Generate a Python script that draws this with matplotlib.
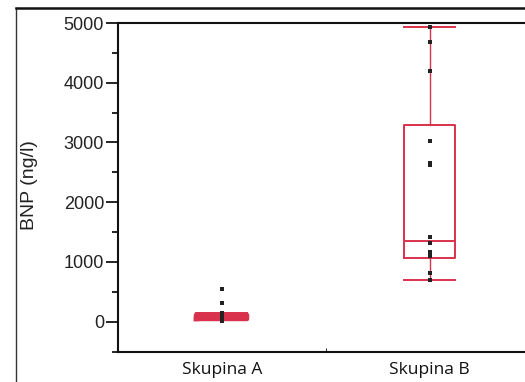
import matplotlib
matplotlib.use("Agg")
import matplotlib.pyplot as plt
from matplotlib.lines import Line2D
from matplotlib.ticker import MultipleLocator

categories = ["Skupina A", "Skupina B"]
whislo = [20, 700]
q1 = [50, 1065]
med = [85, 1345]
q3 = [110, 3300]
whishi = [140, 4930]
points_a = [548, 308, 140, 85, 17]
points_b = [4680, 4190, 3030, 2650, 2620, 1410, 1320, 1160, 1105, 815, 700, 4930]
yticks = [0, 1000, 2000, 3000, 4000, 5000]

red = "#d8324c"

fig = plt.figure(figsize=(5.25, 3.82), dpi=100)
ax = fig.add_axes([118/525, 1-351.5/382, (533.5-118)/525, (351.5-23)/382])

stats = []
for i, c in enumerate(categories):
    stats.append(dict(label=c, whislo=whislo[i], q1=q1[i], med=med[i],
                      q3=q3[i], whishi=whishi[i], fliers=[]))

bp = ax.bxp(stats, positions=[1, 2], widths=0.245, showfliers=False,
            boxprops=dict(color=red, linewidth=1.4),
            medianprops=dict(color=red, linewidth=1.4),
            whiskerprops=dict(color=red, linewidth=1.0),
            capprops=dict(color=red, linewidth=1.4),
            capwidths=0.245)
# thick first box
bp["boxes"][0].set_linewidth(3.2)
bp["boxes"][0].set_solid_joinstyle("round")
bp["medians"][0].set_linewidth(3.2)

ax.scatter([1]*len(points_a), points_a, s=6, marker="s", color="#222222", zorder=5, linewidths=0)
ax.scatter([2]*len(points_b), points_b, s=6, marker="s", color="#222222", zorder=5, linewidths=0)

ax.set_xlim(0.5, 2.5)
ax.set_ylim(-500, 5000)
ax.set_yticks(yticks)
ax.yaxis.set_minor_locator(MultipleLocator(500))
ax.tick_params(axis="y", which="major", direction="out", length=9, width=1.2,
               labelsize=13, pad=1)
ax.tick_params(axis="y", which="minor", direction="out", length=4, width=1.2)
for lab in ax.get_yticklabels():
    lab.set_fontfamily("Liberation Sans")
    lab.set_color("#222222")

ax.set_xticks([1.5])
ax.set_xticklabels([""])
ax.tick_params(axis="x", direction="in", length=3, width=0.6)
for i, c in enumerate(categories):
    ax.text(i + 1, -0.032, c, transform=ax.get_xaxis_transform(), ha="center",
            va="top", fontsize=12.5, family="Open Sans", color="#111111")

ax.set_ylabel("BNP (ng/l)", fontsize=14, family="Liberation Sans", color="#222222")
ax.yaxis.set_label_coords(-0.192, 0.507)

for s in ["left", "top", "bottom"]:
    ax.spines[s].set_linewidth(1.5)
    ax.spines[s].set_color("#111111")
ax.spines["right"].set_visible(False)

# outer frame lines
fig.add_artist(Line2D([16/525, 16/525], [0, 1-8/382], transform=fig.transFigure,
                      color="#333333", linewidth=1.0))
fig.add_artist(Line2D([16/525, 1], [1-8/382, 1-8/382], transform=fig.transFigure,
                      color="#111111", linewidth=1.8))

fig.savefig("out.png", dpi=100)
